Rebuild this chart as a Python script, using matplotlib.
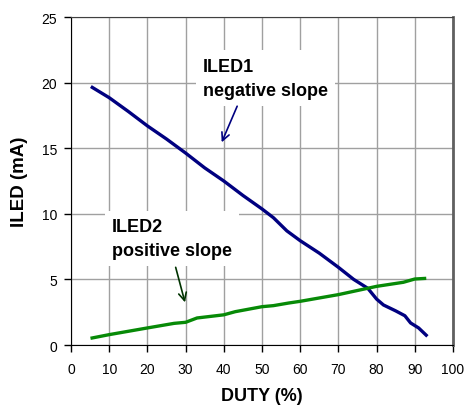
import matplotlib
matplotlib.use('Agg')
import matplotlib.pyplot as plt

# ILED1 (negative slope)
duty1 = [5.2, 10, 15, 20, 25, 30, 35, 40, 45, 50, 53, 56.5, 60, 65, 70, 74, 77.7, 80, 81.8, 85, 87.4, 88.9, 91, 93.3]
iled1 = [19.7, 18.85, 17.8, 16.7, 15.7, 14.63, 13.5, 12.5, 11.4, 10.37, 9.7, 8.7, 7.95, 7.0, 5.92, 5.0, 4.32, 3.5, 3.05, 2.6, 2.23, 1.68, 1.3, 0.66]

# ILED2 (positive slope)
duty2 = [5.1, 10, 20, 27, 30, 33, 40, 43, 50, 53, 57, 60, 70, 80, 87, 90, 93]
iled2 = [0.51, 0.79, 1.3, 1.65, 1.73, 2.06, 2.3, 2.54, 2.92, 3.0, 3.2, 3.33, 3.84, 4.47, 4.78, 5.03, 5.08]

xticks = list(range(0, 101, 10))
yticks = [0, 5, 10, 15, 20, 25]

plt.rcParams['font.family'] = ['Liberation Sans', 'DejaVu Sans']

fig = plt.figure(figsize=(4.66, 4.14), dpi=100)
ax = fig.add_axes([71 / 466, 1 - 346 / 414, (453 - 71) / 466, (346 - 18) / 414])

ax.plot(duty1, iled1, color='#000080', lw=2.4, solid_capstyle='butt', zorder=4)
ax.plot(duty2, iled2, color='#078a07', lw=2.4, solid_capstyle='butt', zorder=4)

ax.set_xlim(0, 100)
ax.set_ylim(0, 25)
ax.set_xticks(xticks)
ax.set_yticks(yticks)
ax.tick_params(axis='both', labelsize=10, length=5, width=1, direction='out')
ax.tick_params(axis='x', pad=7)
ax.tick_params(axis='y', pad=5)
ax.grid(True, color='#a0a0a0', lw=1)

ax.spines['left'].set_color('black')
ax.spines['bottom'].set_color('black')
ax.spines['top'].set_color('#404040')
ax.spines['right'].set_color('#606060')
ax.spines['right'].set_linewidth(2)

ax.set_xlabel('DUTY (%)', fontsize=13, fontweight='bold', labelpad=8)
ax.set_ylabel('ILED (mA)', fontsize=13.5, fontweight='bold', labelpad=10)

box = dict(boxstyle='square,pad=0.4', facecolor='white', edgecolor='none')
ax.text(34.6, 21.9, 'ILED1\nnegative slope', fontsize=13, fontweight='bold',
        ha='left', va='top', linespacing=1.55, bbox=box, zorder=3)
ax.text(10.7, 9.7, 'ILED2\npositive slope', fontsize=13, fontweight='bold',
        ha='left', va='top', linespacing=1.55, bbox=box, zorder=3)

ax.annotate('', xy=(39.45, 15.45), xytext=(43.5, 18.2),
            arrowprops=dict(arrowstyle='->', color='#000080', lw=1.2,
                            mutation_scale=14, shrinkA=0, shrinkB=0), zorder=5)
ax.annotate('', xy=(29.84, 3.25), xytext=(27.4, 5.92),
            arrowprops=dict(arrowstyle='->', color='#003300', lw=1.2,
                            mutation_scale=14, shrinkA=0, shrinkB=0), zorder=5)

fig.savefig('out.png', dpi=100)
